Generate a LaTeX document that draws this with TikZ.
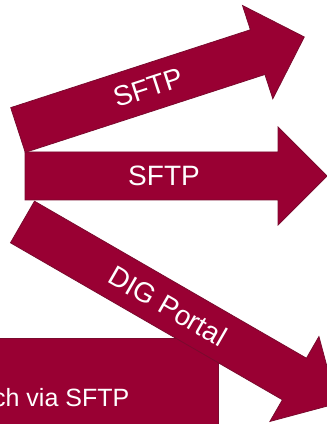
\documentclass[tikz,border=0pt]{standalone}
\usepackage{fontspec}
\setmainfont{Liberation Sans}
\definecolor{wine}{HTML}{990033}
\definecolor{wineedge}{HTML}{7A0A2E}
\tikzset{
  arrowbody/.style={fill=wine, draw=wineedge, line width=0.8pt, line join=miter},
  arrowlabel/.style={text=white, font=\fontsize{28}{34}\selectfont, inner sep=0pt},
  boxlabel/.style={text=white, font=\fontsize{25}{30}\selectfont, inner sep=0pt}
}
\begin{document}
\begin{tikzpicture}[x=1pt,y=1pt]
\useasboundingbox (0,0) rectangle (327,424);
\begin{scope}
\clip (0,0) rectangle (327,424);
% bottom-left box
\path[arrowbody] (-10,-10) rectangle (218,86);
\node[boxlabel, anchor=base east] (boxtext) at (129.5,17) {ch via SFTP};
% arrow 3: DIG Portal
\begin{scope}[shift={(22.5,202)}, rotate=-30]
  \path[arrowbody] (0,-24) -- (314,-24) -- (314,-49) -- (363,0) -- (314,49) -- (314,24) -- (0,24) -- cycle;
  \node[arrowlabel, rotate=-30] (dig) at (168,0) {DIG Portal};
\end{scope}
% arrow 2: SFTP horizontal
\begin{scope}[shift={(25,248)}]
  \path[arrowbody] (0,-24) -- (253,-24) -- (253,-49) -- (302,0) -- (253,49) -- (253,24) -- (0,24) -- cycle;
  \node[arrowlabel] (sftpmid) at (139,0) {SFTP};
\end{scope}
% arrow 1: SFTP upward
\begin{scope}[shift={(18,294)}, rotate=18]
  \path[arrowbody] (0,-23.5) -- (252,-23.5) -- (252,-49) -- (301,0) -- (252,49) -- (252,23.5) -- (0,23.5) -- cycle;
  \node[arrowlabel, rotate=18] (sftptop) at (137,0) {SFTP};
\end{scope}
\end{scope}
\end{tikzpicture}
\end{document}
